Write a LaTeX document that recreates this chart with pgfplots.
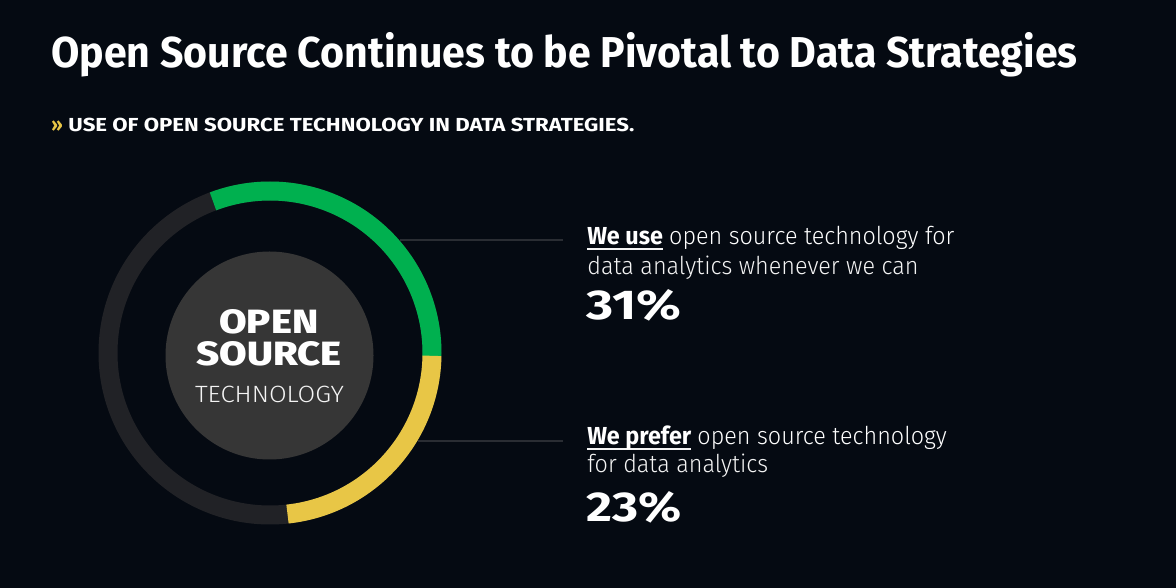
\documentclass[border=0pt]{standalone}
\usepackage{pgfplots}
\pgfplotsset{compat=1.18}
\usepackage{pgfplotstable}
\usepackage{graphicx}
\usepackage{fontspec}
\setmainfont{Fira Sans}[FakeStretch=0.95]
\newfontfamily\flight{Fira Sans Light}[FakeStretch=0.95]
\newfontfamily\fheavy{Fira Sans ExtraBold}
\definecolor{bg}{HTML}{050A12}
\definecolor{ringgreen}{HTML}{00B04F}
\definecolor{ringyellow}{HTML}{E8C646}
\definecolor{ringdark}{HTML}{212226}
\definecolor{disc}{HTML}{363636}
\definecolor{conn}{HTML}{2A2D33}
\definecolor{txt}{HTML}{F4F4F4}
\newcommand\ul[1]{\setbox0\hbox{#1}\rlap{\color{txt}\rule[-2.6pt]{\wd0}{1pt}}\box0\relax}

\pgfplotstableread{
label value
use 31
prefer 23
}\donutdata
\pgfplotstablegetelem{0}{value}\of\donutdata
\let\vUse\pgfplotsretval
\pgfplotstablegetelem{1}{value}\of\donutdata
\let\vPrefer\pgfplotsretval

\begin{document}
\begin{tikzpicture}
\begin{axis}[x=0.5pt, y=0.5pt, xmin=0, xmax=1176, ymin=0, ymax=588,
  hide axis, clip=false, scale only axis]
% background
\fill[bg] (axis cs:0,0) rectangle (axis cs:1176,588);
% connector lines
\addplot[conn, line width=1pt, forget plot] coordinates {(400,348) (563,348)};
\addplot[conn, line width=1pt, forget plot] coordinates {(418,147) (563,147)};
% ring
\draw[ringdark, line width=9.5pt] (axis cs:270,235) circle[radius=81pt];
\pgfmathsetmacro\aoff{-1}
\pgfmathsetmacro\aUse{\aoff+\vUse*3.6}
\pgfmathsetmacro\aPref{\aoff-\vPrefer*3.6}
\draw[ringgreen, line width=9.5pt] (axis cs:270,235) ++(\aoff:81pt) arc[start angle=\aoff, end angle=\aUse, radius=81pt];
\draw[ringyellow, line width=9.5pt] (axis cs:270,235) ++(\aoff:81pt) arc[start angle=\aoff, end angle=\aPref, radius=81pt];
% disc
\fill[disc] (axis cs:269.5,232.5) circle[radius=52pt];
\node[anchor=base, inner sep=0, text=white] at (axis cs:268.8,254) {\resizebox{49.5pt}{12pt}{\fheavy\fontsize{17pt}{18pt}\selectfont OPEN}};
\node[anchor=base, inner sep=0, text=white] at (axis cs:269.2,222) {\resizebox{72.5pt}{12pt}{\fheavy\fontsize{17pt}{18pt}\selectfont SOURCE}};
\node[anchor=base, inner sep=0, text=txt] at (axis cs:269.5,185.7) {\resizebox{74.5pt}{8.2pt}{\flight\fontsize{12pt}{13pt}\selectfont TECHNOLOGY}};
% title
\node[anchor=base west, inner sep=0, text=white] at (axis cs:51,520) {\resizebox{513pt}{!}{\bfseries\fontsize{18pt}{20pt}\selectfont Open Source Continues to be Pivotal to Data Strategies}};
\node[anchor=base west, inner sep=0, text=ringyellow] at (axis cs:51,456) {\bfseries\fontsize{9.6pt}{10pt}\selectfont »};
\node[anchor=base west, inner sep=0, text=white] at (axis cs:68,456) {\resizebox{283pt}{6.7pt}{\bfseries\fontsize{9.6pt}{10pt}\selectfont USE OF OPEN SOURCE TECHNOLOGY IN DATA STRATEGIES.}};
% block 1
\node[anchor=base west, inner sep=0, text=txt] at (axis cs:587,343) {\fontsize{12.3pt}{14pt}\selectfont\ul{\bfseries\color{white}We use} \flight open source technology for};
\node[anchor=base west, inner sep=0, text=txt] at (axis cs:587,313) {\flight\fontsize{12.3pt}{14pt}\selectfont data analytics whenever we can};
\node[anchor=base west, inner sep=0, text=white] at (axis cs:586,268) {\resizebox{47.5pt}{15pt}{\bfseries\fontsize{21.8pt}{23pt}\selectfont \vUse\%}};
% block 2
\node[anchor=base west, inner sep=0, text=txt] at (axis cs:587,143) {\fontsize{12.3pt}{14pt}\selectfont\ul{\bfseries\color{white}We prefer} \flight open source technology};
\node[anchor=base west, inner sep=0, text=txt] at (axis cs:587,115) {\flight\fontsize{12.3pt}{14pt}\selectfont for data analytics};
\node[anchor=base west, inner sep=0, text=white] at (axis cs:586,66) {\resizebox{47.5pt}{15pt}{\bfseries\fontsize{21.8pt}{23pt}\selectfont \vPrefer\%}};
\end{axis}
\end{tikzpicture}
\end{document}
